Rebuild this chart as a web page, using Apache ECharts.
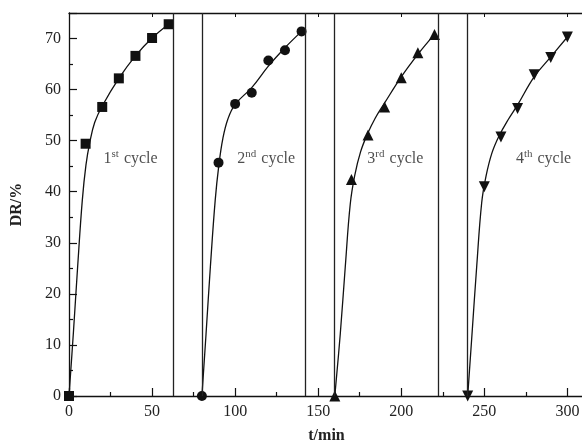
<!DOCTYPE html>
<html>
<head>
<meta charset="utf-8">
<script src="https://cdn.jsdelivr.net/npm/echarts@6/dist/echarts.min.js"></script>
<style>
  html, body { margin: 0; padding: 0; background: #fff; }
  #main { width: 582px; height: 445px; }
</style>
</head>
<body>
<div id="main"></div>
<script>
// measured points (t/min, DR/%)
const cycle1Pts = [[0, 0], [10, 49.4], [20, 56.6], [30, 62.2], [40, 66.6], [50, 70.1], [60, 72.8]];
const cycle2Pts = [[80, 0], [90, 45.7], [100, 57.2], [110, 59.4], [120, 65.7], [130, 67.7], [140, 71.4]];
const cycle3Pts = [[160, 0], [170, 42.4], [180, 51.1], [190, 56.6], [200, 62.3], [210, 67.2], [220, 70.8]];
const cycle4Pts = [[240, 0], [250, 41.0], [260, 50.7], [270, 56.3], [280, 62.9], [290, 66.3], [300, 70.3]];

// fitted curves
const fit1 = [[0, 0], [2.6, 12.2], [5.2, 25.3], [8.0, 38.3], [10.2, 45.2], [12.6, 49.8], [15.5, 53.6],
  [20, 56.8], [30, 62.2], [40, 66.6], [50, 70.1], [60, 72.8]];
const fit2 = [[80, 0], [82.5, 12.2], [85.1, 25.3], [88, 38.3], [90.2, 45.2], [92.6, 50.4], [95.6, 54.2],
  [100, 57.1], [110, 60.4], [120, 64.6], [130, 68.2], [140, 71.4]];
const fit3 = [[160, 0], [163.3, 12.2], [166.3, 25.3], [169.3, 37.6], [172, 43.2], [175.5, 47.8],
  [179.5, 51.2], [184.3, 54.4], [190, 57.4], [200, 62.5], [210, 66.9], [220, 70.8]];
const fit4 = [[240, 0], [242.6, 12.2], [245.4, 25.3], [248.4, 37.8], [251, 43.0], [254.6, 47.6],
  [259, 51.0], [264.5, 54.2], [270, 57.0], [280, 62.5], [290, 66.4], [300, 70.3]];

// cycle boundaries
const boundaries = [63, 80, 142.5, 159.5, 222.5, 239.5];

// cycle labels: [t, DR, number, suffix]
const cycleLabels = [[20.5, 46.4, '1', 'st'], [101, 46.4, '2', 'nd'], [179.3, 46.4, '3', 'rd'], [268.7, 46.4, '4', 'th']];

const serif = 'Liberation Serif';
const ink = '#111';

const chart = echarts.init(document.getElementById('main'));

function axisCommon() {
  return {
    type: 'value',
    axisLine: { show: true, onZero: false, lineStyle: { color: ink, width: 1.3 } },
    axisTick: { show: true, inside: true, length: 8, lineStyle: { color: ink, width: 1.2 } },
    minorTick: { show: true, splitNumber: 2, length: 4, lineStyle: { color: ink, width: 1.2 } },
    splitLine: { show: false },
    axisLabel: { color: '#222', fontFamily: serif, fontSize: 16, showMaxLabel: false }
  };
}

function curve(data) {
  return {
    type: 'line', data: data, smooth: 0.4, showSymbol: false, symbol: 'none',
    lineStyle: { color: ink, width: 1.3 }, z: 2, silent: true
  };
}

function marks(data, symbol, size, rotate) {
  return {
    type: 'scatter', data: data, symbol: symbol, symbolSize: size, symbolRotate: rotate || 0,
    itemStyle: { color: ink, opacity: 1 }, z: 3, silent: true
  };
}

const option = {
  backgroundColor: '#fff',
  animation: false,
  grid: { left: 69, top: 13, right: -2, bottom: 49, outerBoundsMode: 'none', containLabel: false },
  xAxis: [
    Object.assign(axisCommon(), {
      min: 0, max: 310, interval: 50, position: 'bottom',
      name: 't/min', nameLocation: 'middle', nameGap: 32,
      nameTextStyle: { fontFamily: serif, fontSize: 16, fontWeight: 'bold', color: '#222' }
    }),
    Object.assign(axisCommon(), {
      min: 0, max: 310, interval: 50, position: 'top',
      axisTick: { show: true, inside: true, length: 4, lineStyle: { color: ink, width: 1 } },
      minorTick: { show: false },
      axisLabel: { show: false }
    })
  ],
  yAxis: Object.assign(axisCommon(), {
    min: 0, max: 75, interval: 10,
    name: 'DR/%', nameLocation: 'middle', nameGap: 44, nameRotate: 90,
    nameTextStyle: { fontFamily: serif, fontSize: 16, fontWeight: 'bold', color: '#222' }
  }),
  series: [
    curve(fit1), curve(fit2), curve(fit3), curve(fit4),
    marks(cycle1Pts, 'rect', 10),
    marks(cycle2Pts, 'circle', 10),
    marks(cycle3Pts, 'triangle', 11),
    marks(cycle4Pts, 'triangle', 11, 180),
    {
      type: 'scatter', symbolSize: 1, silent: true, z: 4,
      itemStyle: { color: 'rgba(0,0,0,0)' },
      data: cycleLabels.map(d => ({ value: [d[0], d[1]], num: d[2], sup: d[3] })),
      label: {
        show: true, position: 'right', distance: 0,
        formatter: p => p.data.num + '{s|' + p.data.sup + '} cycle',
        fontFamily: serif, fontSize: 16, color: '#222',
        rich: { s: { fontFamily: serif, fontSize: 11, color: '#222', verticalAlign: 'top', padding: [0, 1, 9, 0] } }
      },
      markLine: {
        silent: true, symbol: 'none', animation: false,
        label: { show: false },
        lineStyle: { color: '#222', width: 1.3, type: 'solid' },
        data: boundaries.map(v => ({ xAxis: v }))
      }
    }
  ]
};

chart.setOption(option);
</script>
</body>
</html>
